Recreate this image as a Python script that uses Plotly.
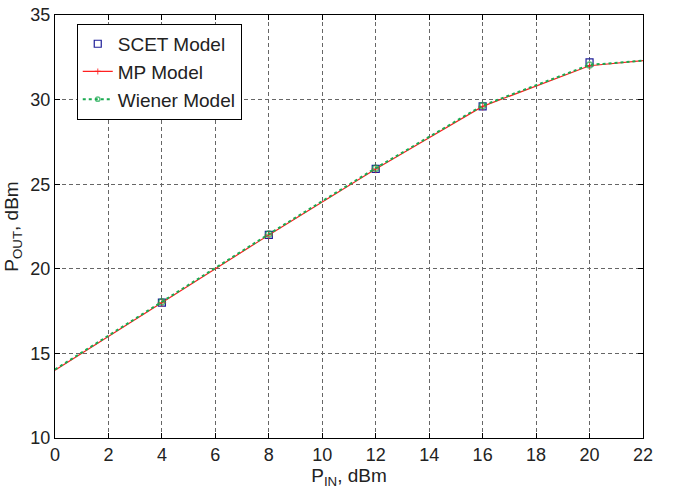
import plotly.graph_objects as go

pin = [0, 4, 8, 12, 16, 20, 22]
scet_x = [4, 8, 12, 16, 20]
scet_y = [18.0, 22.0, 25.9, 29.6, 32.2]
mp_y = [14.0, 18.0, 22.0, 25.9, 29.6, 32.0, 32.3]
wiener_y = [14.05, 18.05, 22.05, 25.95, 29.65, 32.05, 32.3]

x_ticks = list(range(0, 23, 2))
y_ticks = [10, 15, 20, 25, 30, 35]

msize = [0] + [6] * (len(pin) - 2) + [0]
FONT = "Liberation Sans, Arial, sans-serif"

fig = go.Figure()
fig.add_trace(go.Scatter(
    x=scet_x, y=scet_y, mode="markers", name="SCET Model",
    marker=dict(symbol="square-open", size=7, color="#1f1f99", line=dict(width=1.2)),
))
fig.add_trace(go.Scatter(
    x=pin, y=mp_y, mode="lines+markers", name="MP Model",
    line=dict(color="#ff2020", width=1.2),
    marker=dict(symbol="cross-thin-open", size=msize, color="#ff2020", line=dict(width=1.2, color="#ff2020")),
))
fig.add_trace(go.Scatter(
    x=pin, y=wiener_y, mode="lines+markers", name="Wiener Model",
    line=dict(color="#1aaa50", width=2, dash="dot"),
    marker=dict(symbol="circle-open", size=msize, color="#1aaa50", line=dict(width=1.5)),
))

axis_common = dict(
    showline=True, linecolor="black", linewidth=1, mirror="ticks",
    ticks="inside", ticklen=5, tickcolor="black",
    showgrid=True, gridcolor="#666666", griddash="4px,3px", gridwidth=1,
    zeroline=False, automargin=False,
    tickfont=dict(family=FONT, size=18, color="#222222"),
)

fig.update_xaxes(range=[0, 22], tickvals=x_ticks, title=dict(text="P<sub>IN</sub>, dBm", standoff=4,
                 font=dict(family=FONT, size=19, color="#222222")), **axis_common)
fig.update_yaxes(range=[10, 35], tickvals=y_ticks, title=dict(text="P<sub>OUT</sub>, dBm", standoff=6,
                 font=dict(family=FONT, size=19, color="#222222")), **axis_common)

fig.update_layout(
    width=679, height=496,
    margin=dict(l=55, r=36, t=15, b=58),
    paper_bgcolor="white", plot_bgcolor="white",
    font=dict(family=FONT, size=19, color="#222222"),
    legend=dict(x=0.037, y=0.979, xanchor="left", yanchor="top",
                bgcolor="white", bordercolor="black", borderwidth=1,
                font=dict(size=19), tracegroupgap=0, itemwidth=30),
    showlegend=True,
)

fig.write_html("out.html", config={"displayModeBar": False},
               post_script="document.body.style.margin='0';")
